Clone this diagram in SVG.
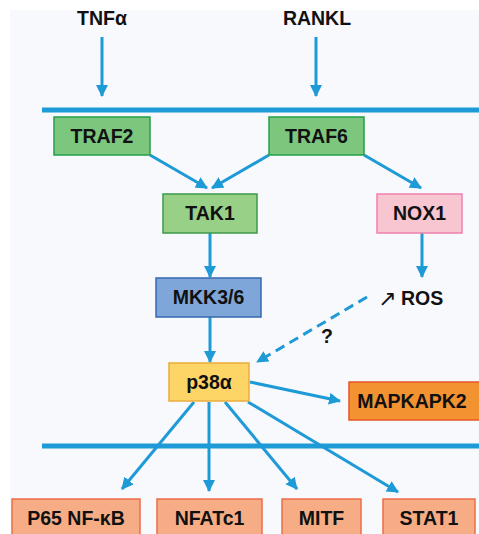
<svg xmlns="http://www.w3.org/2000/svg" width="479" height="534" viewBox="0 0 479 534">
<style>
text{font-family:"Liberation Sans",Arial,sans-serif;font-weight:bold;font-size:19.5px;fill:#111;text-anchor:middle}
text.s{text-anchor:start}
text.arr{font-family:"DejaVu Sans",sans-serif;font-weight:normal;font-size:22px;text-anchor:start}
.ln{stroke:#1e9ad6;stroke-width:3;fill:none}
.mem{stroke:#1e9ad6;stroke-width:5;fill:none}
.g1{fill:#7dc67e;stroke:#22a04a;stroke-width:1.5}
.g2{fill:#98d087;stroke:#3b9a48;stroke-width:1.5}
.pk{fill:#f7c6d0;stroke:#ee80ae;stroke-width:1.5}
.bl{fill:#7fa6d8;stroke:#3568b0;stroke-width:1.5}
.ye{fill:#fdd567;stroke:#e9ac3c;stroke-width:1.5}
.or{fill:#f39231;stroke:#e8562a;stroke-width:1.5}
.sa{fill:#f6ad85;stroke:#ec6e47;stroke-width:1.5}
</style>
<defs>
<marker id="ah" viewBox="0 0 12 12" refX="11" refY="6" markerWidth="12" markerHeight="12" markerUnits="userSpaceOnUse" orient="auto">
<path d="M0,0 L12,6 L0,12 z" fill="#1e9ad6"/>
</marker>
</defs>
<rect x="10" y="10" width="469" height="524" fill="#f8f9fd"/>
<g id="connectors">
<line class="ln" x1="102" y1="37" x2="102" y2="96" marker-end="url(#ah)"/>
<line class="ln" x1="316" y1="37" x2="316" y2="96" marker-end="url(#ah)"/>
<line class="mem" x1="42" y1="110" x2="479" y2="110"/>
<line class="ln" x1="150" y1="155" x2="207" y2="188" marker-end="url(#ah)"/>
<line class="ln" x1="269" y1="155" x2="212" y2="188" marker-end="url(#ah)"/>
<line class="ln" x1="364" y1="155" x2="421" y2="188" marker-end="url(#ah)"/>
<line class="ln" x1="210" y1="233" x2="210" y2="277" marker-end="url(#ah)"/>
<line class="ln" x1="422" y1="233" x2="422" y2="277" marker-end="url(#ah)"/>
<line class="ln" x1="210" y1="317" x2="210" y2="362" marker-end="url(#ah)"/>
<line class="ln" x1="367" y1="297" x2="257" y2="362" stroke-dasharray="10,6" marker-end="url(#ah)"/>
<line class="ln" x1="250" y1="382" x2="340" y2="401" marker-end="url(#ah)"/>
<line class="mem" x1="42" y1="446" x2="479" y2="446"/>
<line class="ln" x1="194" y1="402" x2="122" y2="489" marker-end="url(#ah)"/>
<line class="ln" x1="209" y1="402" x2="209" y2="491" marker-end="url(#ah)"/>
<line class="ln" x1="225" y1="402" x2="297" y2="489" marker-end="url(#ah)"/>
<line class="ln" x1="248" y1="402" x2="398" y2="492" marker-end="url(#ah)"/>
</g>
<g id="tnfa"><text x="102" y="25">TNFα</text></g>
<g id="rankl"><text x="317" y="25">RANKL</text></g>
<g id="traf2"><rect class="g1" x="54" y="117" width="96" height="38"/><text x="102" y="143">TRAF2</text></g>
<g id="traf6"><rect class="g1" x="269" y="117" width="95" height="38"/><text x="316.5" y="143">TRAF6</text></g>
<g id="tak1"><rect class="g2" x="163" y="194" width="94" height="39"/><text x="210" y="220">TAK1</text></g>
<g id="nox1"><rect class="pk" x="377" y="194" width="85" height="39"/><text x="419.5" y="220">NOX1</text></g>
<g id="mkk"><rect class="bl" x="156" y="278" width="105" height="39"/><text x="208.5" y="304">MKK3/6</text></g>
<g id="ros"><text class="arr" x="378" y="306">↗</text><text class="s" x="401" y="305">ROS</text></g>
<g id="q"><text x="327" y="343">?</text></g>
<g id="p38"><rect class="ye" x="169" y="363" width="80" height="38"/><text x="209" y="389">p38α</text></g>
<g id="mapkapk2"><rect class="or" x="349" y="382" width="135" height="38"/><text x="412" y="408">MAPKAPK2</text></g>
<g id="p65"><rect class="sa" x="12" y="499" width="128" height="45"/><text x="76" y="525">P65 NF-κB</text></g>
<g id="nfatc1"><rect class="sa" x="157" y="499" width="105" height="45"/><text x="209.5" y="525">NFATc1</text></g>
<g id="mitf"><rect class="sa" x="282" y="499" width="79" height="45"/><text x="321.5" y="525">MITF</text></g>
<g id="stat1"><rect class="sa" x="383" y="499" width="92" height="45"/><text x="429" y="525">STAT1</text></g>
</svg>
